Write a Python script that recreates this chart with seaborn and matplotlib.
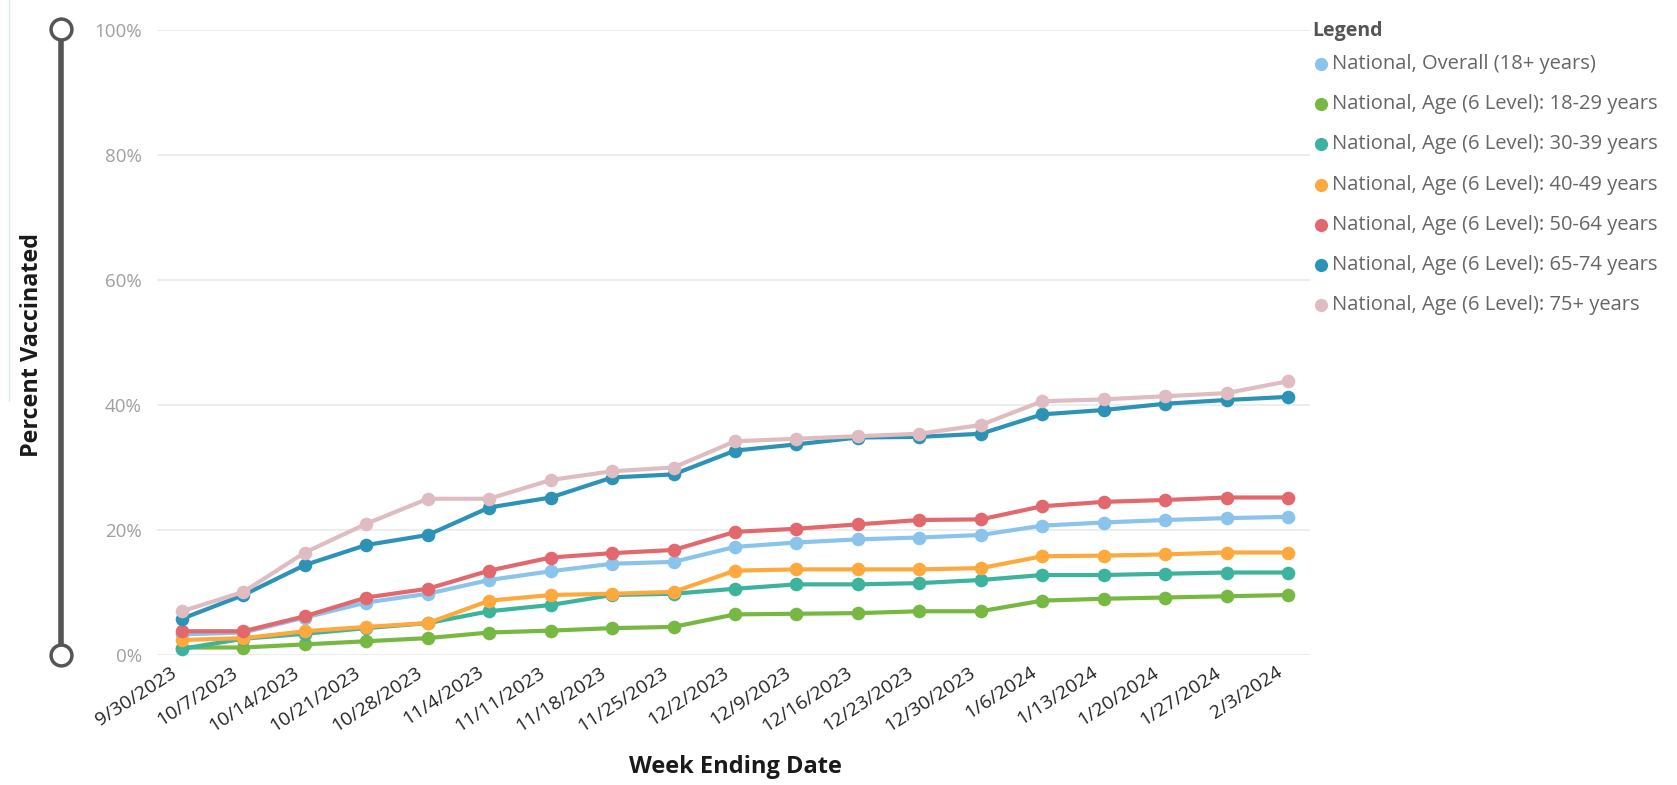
import matplotlib
matplotlib.use("Agg")
import matplotlib.pyplot as plt
from matplotlib.lines import Line2D
import seaborn as sns
import pandas as pd

# Week-ending dates (x axis)
weeks = ["9/30/2023", "10/7/2023", "10/14/2023", "10/21/2023", "10/28/2023",
         "11/4/2023", "11/11/2023", "11/18/2023", "11/25/2023", "12/2/2023",
         "12/9/2023", "12/16/2023", "12/23/2023", "12/30/2023", "1/6/2024",
         "1/13/2024", "1/20/2024", "1/27/2024", "2/3/2024"]

# Cumulative percent vaccinated per group
overall = [3.3, 3.6, 6.0, 8.4, 9.8, 12.0, 13.4, 14.6, 14.9, 17.3,
           18.0, 18.5, 18.8, 19.2, 20.7, 21.2, 21.6, 21.9, 22.1]
age_18_29 = [1.2, 1.2, 1.7, 2.2, 2.7, 3.6, 3.9, 4.3, 4.5, 6.5,
             6.6, 6.7, 7.0, 7.0, 8.7, 9.0, 9.2, 9.4, 9.6]
age_30_39 = [1.0, 2.6, 3.4, 4.3, 5.1, 7.0, 8.0, 9.6, 9.8, 10.6,
             11.3, 11.3, 11.5, 12.0, 12.8, 12.8, 13.0, 13.2, 13.2]
age_40_49 = [2.4, 2.7, 3.8, 4.5, 5.1, 8.7, 9.6, 9.8, 10.1, 13.5,
             13.7, 13.7, 13.7, 13.9, 15.8, 15.9, 16.1, 16.4, 16.4]
age_50_64 = [3.8, 3.8, 6.2, 9.2, 10.6, 13.5, 15.6, 16.3, 16.8, 19.7,
             20.2, 20.9, 21.6, 21.7, 23.8, 24.5, 24.8, 25.2, 25.2]
age_65_74 = [5.8, 9.6, 14.4, 17.6, 19.2, 23.6, 25.2, 28.4, 28.9, 32.7,
             33.7, 34.8, 34.9, 35.4, 38.5, 39.2, 40.2, 40.8, 41.3]
age_75_plus = [7.0, 10.1, 16.4, 21.0, 25.0, 25.0, 28.0, 29.4, 30.0, 34.2,
               34.6, 35.0, 35.4, 36.8, 40.6, 40.9, 41.4, 41.9, 43.8]

series_names = ["National, Overall (18+ years)",
                "National, Age (6 Level): 18-29 years",
                "National, Age (6 Level): 30-39 years",
                "National, Age (6 Level): 40-49 years",
                "National, Age (6 Level): 50-64 years",
                "National, Age (6 Level): 65-74 years",
                "National, Age (6 Level): 75+ years"]
series_values = [overall, age_18_29, age_30_39, age_40_49,
                 age_50_64, age_65_74, age_75_plus]
series_colors = ["#8AC4EC", "#77B843", "#3CB39D", "#FEA93D",
                 "#E2686D", "#2D93B6", "#DFBCC1"]

y_ticks = [0, 20, 40, 60, 80, 100]

sns.set_theme(style="white")
plt.rcParams["font.family"] = ["Open Sans", "DejaVu Sans"]

W, H = 1677, 785
fig = plt.figure(figsize=(W / 100, H / 100), dpi=100)
fig.patch.set_facecolor("white")
ax = fig.add_axes([157 / W, 1 - 655 / H, 1153 / W, 625 / H])

rows = []
for name, vals in zip(series_names, series_values):
    for i, v in enumerate(vals):
        rows.append({"pos": i, "pct": v, "series": name})
df = pd.DataFrame(rows)

sns.lineplot(data=df, x="pos", y="pct", hue="series", hue_order=series_names,
             palette=series_colors, marker="o", markersize=9.8,
             markeredgewidth=0, linewidth=3.0, legend=False, sort=False, ax=ax)
for ln in ax.lines:
    ln.set_clip_on(False)
    ln.set_solid_capstyle("round")
    ln.set_solid_joinstyle("round")

ax.set_xlim(-0.407, 18.358)
ax.set_ylim(0, 100)
ax.set_xlabel("")
ax.set_ylabel("")
ax.set_yticks(y_ticks)
ax.set_yticklabels([f"{t}%" for t in y_ticks])
ax.yaxis.grid(True, color="#E8E8E8", linewidth=1.1)
ax.xaxis.grid(False)
ax.set_axisbelow(True)
for sp in ax.spines.values():
    sp.set_visible(False)
ax.tick_params(axis="y", length=0, pad=11, labelcolor="#A0A0A0",
               labelsize=13.5)

# Date labels sit just left of each week's point, slanted upward
ax.set_xticks([i - 0.2 for i in range(len(weeks))])
ax.set_xticklabels(weeks, rotation=33, ha="right", va="top",
                   rotation_mode="anchor")
ax.tick_params(axis="x", length=0, pad=6, labelcolor="#252423",
               labelsize=14)

# Axis titles
fig.text(32 / W, 1 - 345 / H, "Percent Vaccinated", rotation=90,
         ha="center", va="center", fontsize=16.8, fontweight="bold",
         color="#1A1A1A")
fig.text(735 / W, 1 - 767 / H, "Week Ending Date", ha="center", va="center",
         fontsize=17, fontweight="bold", color="#1A1A1A")

# Range slider beside the y axis
sx = 61 / W
fig.add_artist(Line2D([sx, sx], [1 - 29 / H, 1 - 655 / H],
                      transform=fig.transFigure, color="#555555", linewidth=4))
fig.add_artist(Line2D([sx, sx], [1 - 29 / H, 1 - 655 / H],
                      transform=fig.transFigure, linestyle="none", marker="o",
                      markersize=15, markerfacecolor="white",
                      markeredgecolor="#555555", markeredgewidth=2.5))
fig.add_artist(Line2D([9 / W, 9 / W], [1.0, 1 - 401 / H],
                      transform=fig.transFigure, color="#DCEBEC", linewidth=1))

# Legend
fig.text(1312 / W, 1 - 31 / H, "Legend", ha="left", va="center",
         fontsize=14, fontweight="bold", color="#555555")
for k, (name, col) in enumerate(zip(series_names, series_colors)):
    yy = 1 - (64 + 40.2 * k) / H
    fig.add_artist(Line2D([1321 / W], [yy], transform=fig.transFigure,
                          linestyle="none", marker="o", markersize=9.5,
                          markerfacecolor=col, markeredgewidth=0))
    fig.text(1332 / W, yy, name, ha="left", va="center", fontsize=14.5,
             color="#666666")

fig.savefig("out.png", dpi=100, facecolor="white")
